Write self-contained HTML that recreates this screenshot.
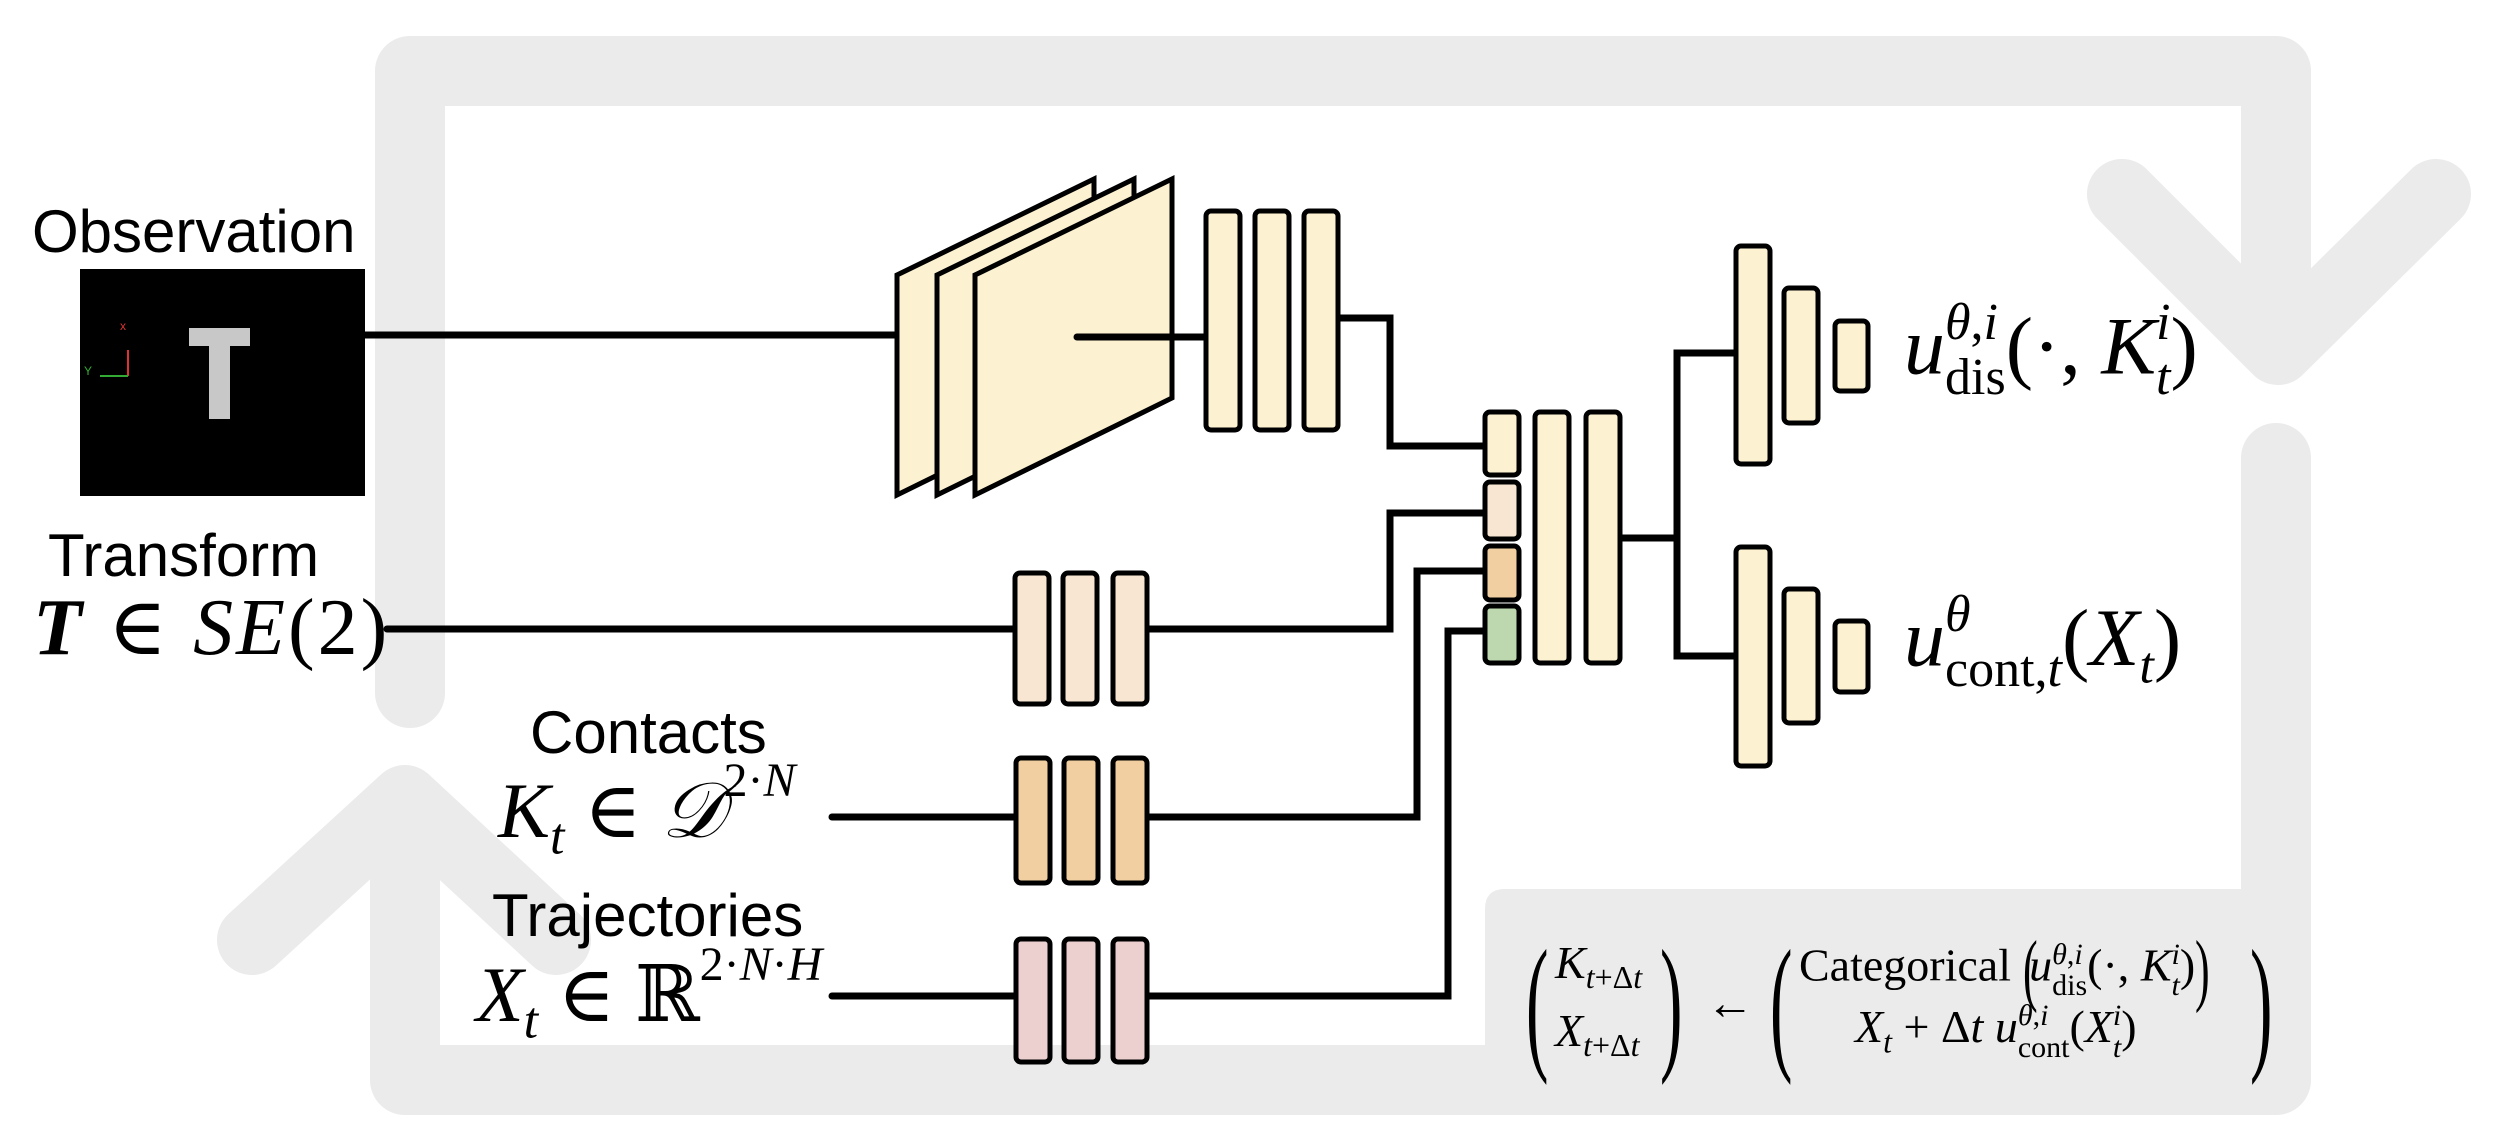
<!DOCTYPE html>
<html><head><meta charset="utf-8"><style>
html,body{margin:0;padding:0;background:#fff;}
#c{position:relative;width:2500px;height:1124px;overflow:hidden;background:#fff;}
.t{position:absolute;white-space:nowrap;line-height:1;color:#000;}
.sans{font-family:"Liberation Sans","DejaVu Sans",sans-serif;}
.m{font-family:"Liberation Serif","DejaVu Serif",serif;}
i{font-style:italic;}
sub,sup{line-height:0;}
.ss{display:inline-block;vertical-align:middle;line-height:1.05;text-align:left;}
.bp{display:inline-block;vertical-align:middle;line-height:1;}
</style></head><body><div id="c">
<svg width="2500" height="1124" style="position:absolute;left:0;top:0">
 <g fill="none" stroke="#ebebeb" stroke-width="70" stroke-linejoin="round" stroke-linecap="round">
  <path d="M410,693 L410,71 L2276,71 L2276,340"/>
  <path d="M2122,194 L2278,350 L2436,194"/>
  <path d="M2276,458 L2276,1080 L405,1080 L405,810"/>
  <path d="M252,940 L405,800 L556,940"/>
 </g>
 <path d="M1505,889 H2276 V1115 H1485 V909 Q1485,889 1505,889 Z" fill="#ebebeb"/>
 <rect x="80" y="269" width="285" height="227" fill="#000"/>
 <rect x="189" y="328" width="61" height="18" fill="#c8c8c8"/>
 <rect x="209" y="328" width="21" height="91" fill="#c8c8c8"/>
 <line x1="128" y1="376" x2="128" y2="350" stroke="#d33" stroke-width="2"/>
 <line x1="100" y1="376" x2="128" y2="376" stroke="#3a3" stroke-width="2"/>
 <text x="120" y="330" font-size="12" fill="#d33" font-family="Liberation Sans">x</text>
 <text x="84" y="375" font-size="12" fill="#3a3" font-family="Liberation Sans">Y</text>
 <g stroke="#000" stroke-width="7" fill="none" stroke-linecap="round" stroke-linejoin="miter">
  <line x1="365" y1="335" x2="900" y2="335"/>
  <line x1="387" y1="629" x2="1015" y2="629"/>
  <path d="M1148,629 H1390 V513 H1485"/>
  <line x1="832" y1="817" x2="1015" y2="817"/>
  <path d="M1148,817 H1417 V571 H1485"/>
  <line x1="832" y1="996" x2="1015" y2="996"/>
  <path d="M1148,996 H1448 V631 H1485"/>
  <path d="M1338,318 H1390 V446 H1485"/>
  <path d="M1619,538 H1677"/>
  <path d="M1736,353 H1677 V656 H1736"/>
 </g>
 <g fill="#fcf2d2" stroke="#000" stroke-width="5" stroke-linejoin="miter">
  <polygon points="897,275 1094,179 1094,398 897,495"/>
  <polygon points="937,275 1134,179 1134,398 937,495"/>
  <polygon points="975,275 1172,179 1172,398 975,495"/>
 </g>
 <line x1="1077" y1="337" x2="1206" y2="337" stroke="#000" stroke-width="7" stroke-linecap="round"/>
 <g stroke="#000" stroke-width="5">
  <g fill="#fcf2d2">
   <rect x="1206" y="211" width="34" height="219" rx="5"/>
   <rect x="1255" y="211" width="34" height="219" rx="5"/>
   <rect x="1304" y="211" width="34" height="219" rx="5"/>
   <rect x="1485" y="412" width="34" height="63" rx="5"/>
   <rect x="1535" y="412" width="34" height="251" rx="5"/>
   <rect x="1586" y="412" width="34" height="251" rx="5"/>
   <rect x="1736" y="246" width="34" height="218" rx="5"/>
   <rect x="1784" y="288" width="34" height="135" rx="5"/>
   <rect x="1835" y="321" width="33" height="70" rx="5"/>
   <rect x="1736" y="547" width="34" height="219" rx="5"/>
   <rect x="1784" y="589" width="34" height="134" rx="5"/>
   <rect x="1835" y="621" width="33" height="71" rx="5"/>
  </g>
  <rect x="1485" y="482" width="34" height="57" rx="5" fill="#f8e6d2"/>
  <rect x="1485" y="546" width="34" height="54" rx="5" fill="#f1cfa0"/>
  <rect x="1485" y="606" width="34" height="57" rx="5" fill="#bdd8ae"/>
  <g fill="#f8e6d2">
   <rect x="1015" y="573" width="34" height="131" rx="5"/>
   <rect x="1063" y="573" width="34" height="131" rx="5"/>
   <rect x="1113" y="573" width="34" height="131" rx="5"/>
  </g>
  <g fill="#f1cfa0">
   <rect x="1016" y="758" width="34" height="125" rx="5"/>
   <rect x="1064" y="758" width="34" height="125" rx="5"/>
   <rect x="1113" y="758" width="34" height="125" rx="5"/>
  </g>
  <g fill="#ecd0d0">
   <rect x="1016" y="939" width="34" height="123" rx="5"/>
   <rect x="1064" y="939" width="34" height="123" rx="5"/>
   <rect x="1113" y="939" width="34" height="123" rx="5"/>
  </g>
 </g>
</svg>

<div class="t sans" style="left:32px;top:202px;font-size:60px;">Observation</div>
<div class="t sans" style="left:48px;top:526px;font-size:60px;">Transform</div>
<div class="t m" style="left:33px;top:588px;font-size:80px;letter-spacing:3px;"><b><i>T</i></b> ∈ <i>SE</i>(2)</div>
<div class="t sans" style="left:530px;top:703px;font-size:60px;">Contacts</div>
<div class="t m" style="left:498px;top:772px;font-size:78px;"><i>K<sub style="font-size:52px">t</sub></i> ∈ <i>𝒟</i><sup style="font-size:48px"><span style="position:relative;top:-14px">2·<i>N</i></span></sup></div>
<div class="t sans" style="left:492px;top:886px;font-size:60px;">Trajectories</div>
<div class="t m" style="left:476px;top:956px;font-size:78px;"><i>X<sub style="font-size:52px">t</sub></i> ∈ ℝ<sup style="font-size:48px"><span style="position:relative;top:-14px">2·<i>N</i>·<i>H</i></span></sup></div>

<div class="t m" style="left:1904px;top:300px;font-size:82px;"><i>u</i><span class="ss" style="font-size:52px;position:relative;top:-4px"><span style="display:block"><i>θ</i>,<i>i</i></span><span style="display:block">dis</span></span>(·, <i>K</i><span class="ss" style="font-size:52px;position:relative;top:-4px"><span style="display:block"><i>i</i></span><span style="display:block"><i>t</i></span></span>)</div>
<div class="t m" style="left:1904px;top:592px;font-size:82px;"><i>u</i><span class="ss" style="font-size:52px;position:relative;top:-4px"><span style="display:block"><i>θ</i></span><span style="display:block">cont,<i>t</i></span></span>(<i>X<sub style="font-size:52px">t</sub></i>)</div>

<!-- bottom formula -->
<div class="t m" style="left:1526px;top:928px;font-size:150px;transform:scaleX(0.45);transform-origin:left top;">(</div>
<div class="t m" style="left:1555px;top:940px;font-size:46px;"><i>K</i><sub style="font-size:32px"><i>t</i>+Δ<i>t</i></sub></div>
<div class="t m" style="left:1555px;top:1008px;font-size:46px;"><i>X</i><sub style="font-size:32px"><i>t</i>+Δ<i>t</i></sub></div>
<div class="t m" style="left:1660px;top:928px;font-size:150px;transform:scaleX(0.45);transform-origin:left top;">)</div>
<div class="t m" style="left:1706px;top:980px;font-size:48px;">←</div>
<div class="t m" style="left:1770px;top:928px;font-size:150px;transform:scaleX(0.45);transform-origin:left top;">(</div>
<div class="t m" style="left:1799px;top:930px;font-size:46px;">Categorical <span class="bp" style="font-size:80px;transform:scaleX(0.55);margin:0 -14px 0 -6px">(</span><i>u</i><span class="ss" style="font-size:30px"><span style="display:block"><i>θ</i>,<i>i</i></span><span style="display:block">dis</span></span>(·, <i>K</i><span class="ss" style="font-size:30px"><span style="display:block"><i>i</i></span><span style="display:block"><i>t</i></span></span>)<span class="bp" style="font-size:80px;transform:scaleX(0.55);margin:0 -14px 0 -6px">)</span></div>
<div class="t m" style="left:1855px;top:1000px;font-size:46px;"><i>X</i><sub style="font-size:32px"><i>t</i></sub> + Δ<i>t</i> <i>u</i><span class="ss" style="font-size:30px"><span style="display:block"><i>θ</i>,<i>i</i></span><span style="display:block">cont</span></span>(<i>X</i><span class="ss" style="font-size:30px"><span style="display:block"><i>i</i></span><span style="display:block"><i>t</i></span></span>)</div>
<div class="t m" style="left:2250px;top:928px;font-size:150px;transform:scaleX(0.45);transform-origin:left top;">)</div>
</div></body></html>
